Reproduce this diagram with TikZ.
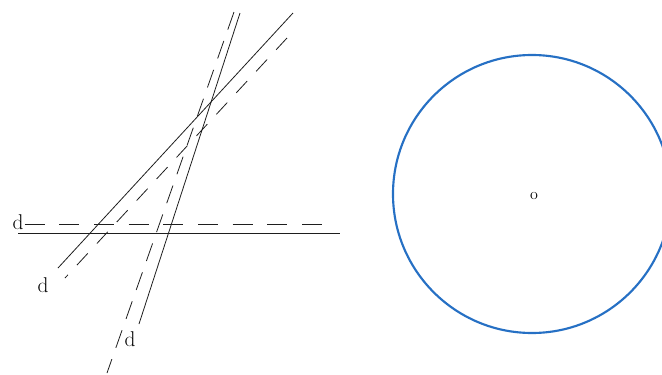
\documentclass[tikz,border=0pt]{standalone}
\usepackage{tikz}
\usepackage{xcolor}

\definecolor{circblue}{RGB}{38,112,196}
\tikzset{
  solidline/.style={line width=0.6pt, color={rgb, 255:red, 30; green, 30; blue, 30}},
  dashline/.style={line width=0.6pt, color={rgb, 255:red, 30; green, 30; blue, 30}, dash pattern=on 15pt off 11pt},
  dlabel/.style={inner sep=0.75pt, font=\fontsize{16}{18}\selectfont},
}

\begin{document}
\begin{tikzpicture}[x=0.75pt,y=0.75pt,yscale=-1,xscale=1]
\useasboundingbox (0,0) rectangle (662,375);
\clip (0,0) rectangle (662,375);

% Text Node
\node [dlabel] (dh) at (18,222) {d};
% Text Node
\node [dlabel] (dd) at (43,285) {d};
% Text Node
\node [dlabel] (ds) at (130,339) {d};

%Straight Lines [horizontal]
\coordinate (h1) at (18,233);
\coordinate (h2) at (340,233);
\draw [solidline] (h1) -- (h2);
\coordinate (h3) at (332,224);
\draw [dashline] (dh.east) ++(0,2) -- (h3);

%Straight Lines [oblique]
\coordinate (o1) at (293,13);
\coordinate (o2) at (58,268);
\draw [solidline] (o1) -- (o2);
\coordinate (o3) at (287,38);
\coordinate (o4) at (65,278);
\draw [dashline, dash pattern=on 12pt off 10pt] (o3) -- (o4);

%Straight Lines [steep]
\coordinate (s1) at (240,13);
\coordinate (s2) at (139,324);
\draw [solidline] (s1) -- (s2);
\coordinate (s3) at (234,12);
\coordinate (s4) at (107,373);
\draw [dashline, dash pattern=on 14pt off 9pt] (s3) -- (s4);

%Shape: Circle
\draw [color=circblue, line width=1.6pt] (532,194) circle (139);
% Text Node
\node [inner sep=0.75pt, font=\fontsize{12}{14}\selectfont] (ctr) at (534,196) {o};

\end{tikzpicture}
\end{document}
